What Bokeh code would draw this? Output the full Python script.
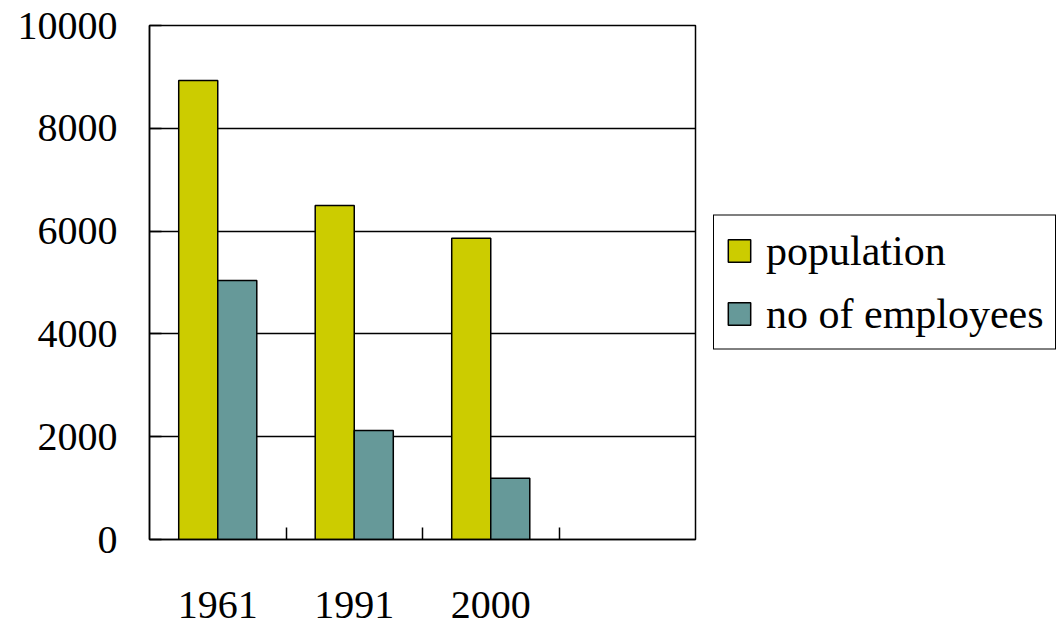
import numpy as np
from bokeh.plotting import figure
from bokeh.models import (ColumnDataSource, Range1d, FixedTicker, Legend, LegendItem)
from bokeh.transform import dodge
from bokeh.embed import file_html
from bokeh.resources import INLINE

# ---- data ----
categories = ["1961", "1991", "2000"]
population = [8930, 6500, 5860]
employees = [5040, 2120, 1190]
series_names = ["population", "no of employees"]
y_ticks = [0, 2000, 4000, 6000, 8000, 10000]

POP_COLOR = "#CCCC00"
EMP_COLOR = "#669999"
FONT = "Liberation Serif"

n_slots = len(categories) + 1  # one empty slot at the right, as in the reference
xc = np.arange(len(categories)) + 0.5

src = ColumnDataSource(dict(x=xc, cat=categories, pop=population, emp=employees))

p = figure(frame_width=546, frame_height=514, output_backend="svg", toolbar_location=None,
           x_range=Range1d(0, n_slots), y_range=Range1d(0, 10000),
           min_border_left=149, min_border_right=0, min_border_top=25,
           min_border_bottom=89)

bw = 0.286
r1 = p.vbar(x=dodge("x", -bw / 2), top="pop", width=bw, source=src,
            fill_color=POP_COLOR, line_color="black", line_width=1.5)
r2 = p.vbar(x=dodge("x", bw / 2), top="emp", width=bw, source=src,
            fill_color=EMP_COLOR, line_color="black", line_width=1.5)

# x axis: labels at category centres, small inward ticks at category boundaries
xa = p.xaxis[0]
xa.ticker = FixedTicker(ticks=list(xc), minor_ticks=list(np.arange(1, n_slots)))
xa.major_label_overrides = {float(v): c for v, c in zip(xc, categories)}
xa.major_tick_in = 0
xa.major_tick_out = 0
xa.minor_tick_in = 12
xa.minor_tick_out = 0
xa.minor_tick_line_color = "black"
xa.minor_tick_line_width = 1.5
xa.axis_line_color = "black"
xa.axis_line_width = 1.5
xa.major_label_standoff = 52
xa.major_label_text_font = FONT
xa.major_label_text_font_size = "40px"
xa.major_label_text_color = "black"

ya = p.yaxis[0]
ya.ticker = FixedTicker(ticks=y_ticks)
ya.major_tick_in = 12
ya.major_tick_out = 0
ya.minor_tick_line_color = None
ya.major_tick_line_color = "black"
ya.major_tick_line_width = 1.5
ya.axis_line_color = "black"
ya.axis_line_width = 1.5
ya.major_label_standoff = 32
ya.major_label_text_font = FONT
ya.major_label_text_font_size = "40px"
ya.major_label_text_color = "black"

p.xgrid.grid_line_color = None
p.ygrid.ticker = FixedTicker(ticks=y_ticks)
p.ygrid.grid_line_color = "black"
p.ygrid.grid_line_width = 1.3
p.outline_line_color = "black"
p.outline_line_width = 1.5
p.background_fill_color = "white"
p.border_fill_color = "white"

legend = Legend(items=[LegendItem(label=series_names[0], renderers=[r1]),
                       LegendItem(label=series_names[1], renderers=[r2])],
                location="left")
legend.label_text_font = FONT
legend.label_text_font_size = "42px"
legend.label_text_color = "black"
legend.glyph_width = 28
legend.glyph_height = 28
legend.label_height = 35
legend.label_standoff = 13
legend.spacing = 15
legend.padding = 11
legend.margin = 18
legend.border_line_color = "black"
legend.border_line_alpha = 1
legend.border_line_width = 1.5
legend.background_fill_color = "white"
legend.background_fill_alpha = 1
p.add_layout(legend, "right")

open("out.html", "w").write(file_html(p, INLINE))
